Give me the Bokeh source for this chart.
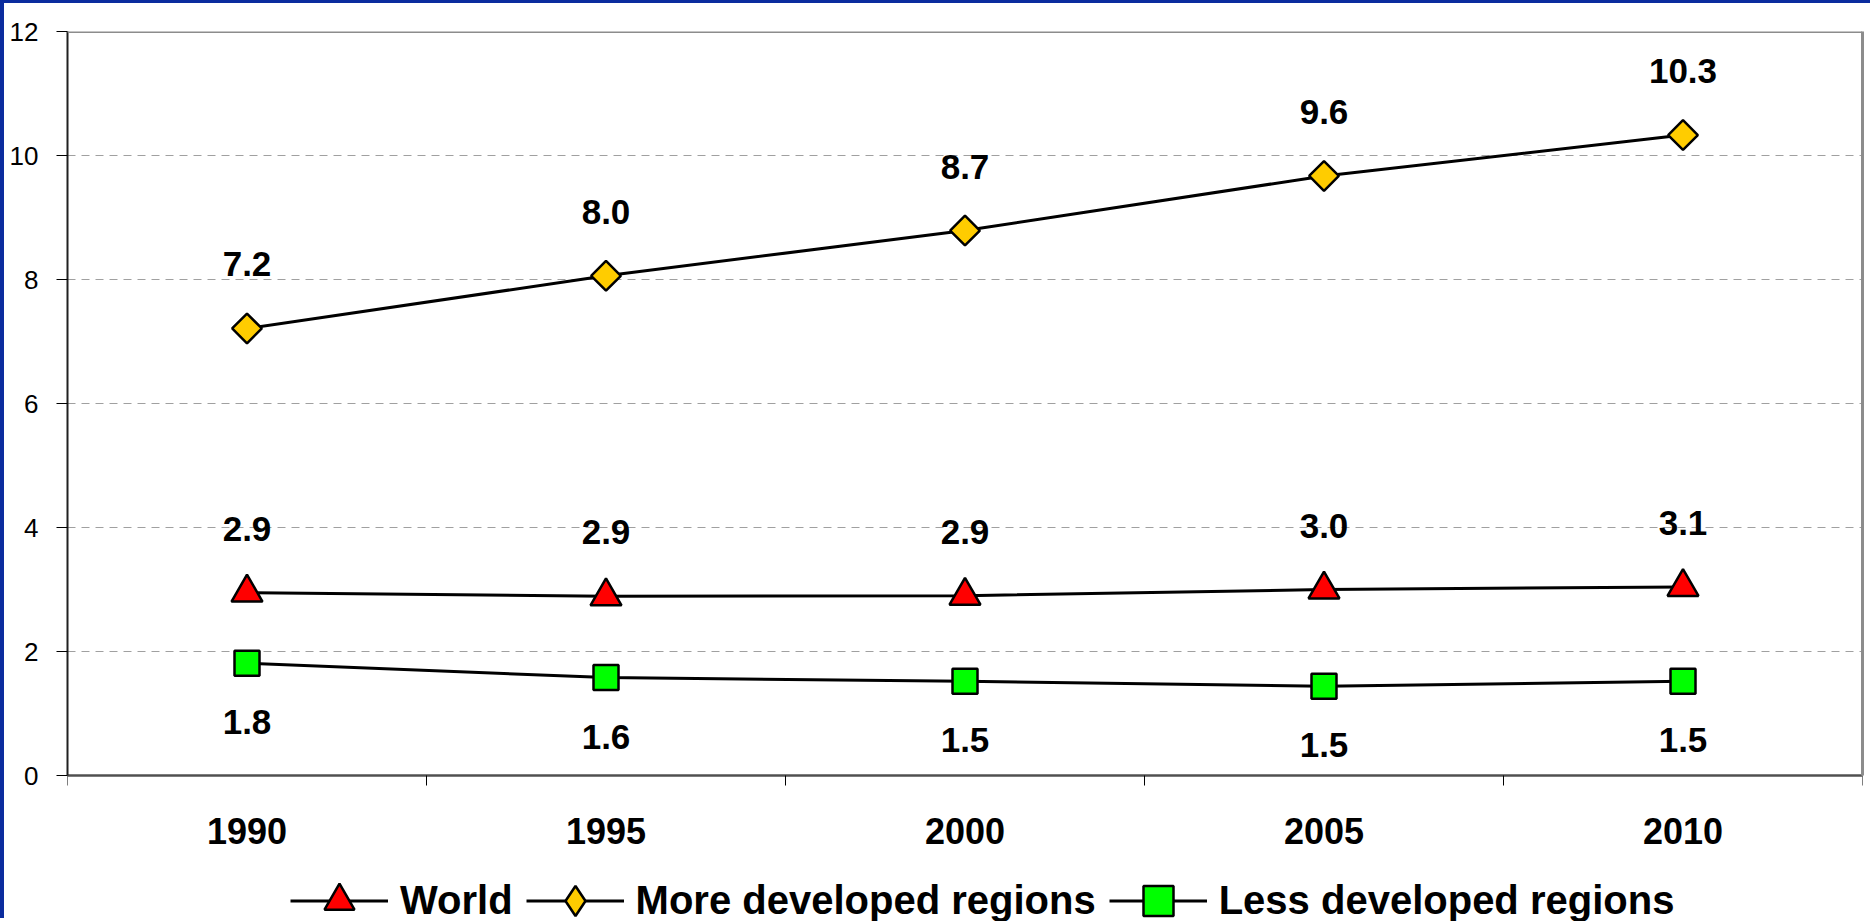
from bokeh.plotting import figure
from bokeh.models import FixedTicker, Legend, LegendItem, LinearAxis, Span, Range1d
from bokeh.embed import file_html
from bokeh.resources import INLINE
from bokeh.core.properties import value

years = ["1990", "1995", "2000", "2005", "2010"]
world = [2.95, 2.89, 2.90, 3.00, 3.04]
more_developed = [7.21, 8.06, 8.79, 9.67, 10.33]
less_developed = [1.81, 1.58, 1.52, 1.44, 1.52]
world_labels = ["2.9", "2.9", "2.9", "3.0", "3.1"]
more_labels = ["7.2", "8.0", "8.7", "9.6", "10.3"]
less_labels = ["1.8", "1.6", "1.5", "1.5", "1.5"]
y_ticks = [0, 2, 4, 6, 8, 10, 12]

FONT = "Liberation Sans"
BLUE = "#0b2c9e"

xs = [i + 0.5 for i in range(len(years))]

# canvas sits after a 4px blue left edge and 3px blue top edge
W, H = 1870, 918
TOP, LEFT, RIGHT = 28, 63, 12
ZERO = 772  # canvas row of y = 0
px_per_unit = (ZERO - TOP) / 12.0
y_min = -(H - ZERO) / px_per_unit

p = figure(width=W, height=H, x_range=Range1d(0, len(years)), y_range=Range1d(y_min, 12),
           output_backend="svg", toolbar_location=None, title=None,
           min_border_left=LEFT, min_border_right=RIGHT, min_border_top=TOP, min_border_bottom=0,
           x_axis_location=None)
p.styles = {"border-left": f"4px solid {BLUE}", "border-top": f"3px solid {BLUE}"}
p.background_fill_color = "white"
p.border_fill_color = "white"
p.outline_line_color = None

# grid
p.xgrid.visible = False
p.ygrid.ticker = FixedTicker(ticks=y_ticks)
p.ygrid.grid_line_color = "#a0a0a0"
p.ygrid.grid_line_dash = "8 6"
p.ygrid.grid_line_width = 1

# x axis fixed at y = 0
xa = LinearAxis(fixed_location=0)
xa.ticker = FixedTicker(ticks=xs, minor_ticks=list(range(len(years) + 1)))
xa.major_label_overrides = {x: y for x, y in zip(xs, years)}
xa.major_tick_out = 0
xa.major_tick_in = 0
xa.minor_tick_out = 10
xa.minor_tick_in = 0
xa.minor_tick_line_color = "black"
xa.minor_tick_line_width = 1
xa.axis_line_color = "#505050"
xa.axis_line_width = 2.5
xa.major_label_standoff = 32
xa.major_label_text_font = FONT
xa.major_label_text_font_size = "36px"
xa.major_label_text_font_style = "bold"
xa.major_label_text_color = "black"
p.add_layout(xa, "below")

# y axis
ya = p.yaxis[0]
ya.bounds = (0, 12)
ya.ticker = FixedTicker(ticks=y_ticks, minor_ticks=[])
ya.major_tick_out = 11
ya.major_tick_in = 0
ya.major_tick_line_color = "black"
ya.major_tick_line_width = 1
ya.minor_tick_out = 0
ya.minor_tick_in = 0
ya.axis_line_color = "#202020"
ya.axis_line_width = 2
ya.major_label_standoff = 18
ya.major_label_text_font = FONT
ya.major_label_text_font_size = "26px"
ya.major_label_text_color = "black"

# right frame border
ra = LinearAxis(bounds=(0, 12), ticker=FixedTicker(ticks=[], minor_ticks=[]))
ra.axis_line_color = "#8c8c8c"
ra.axis_line_width = 3
ra.major_tick_out = 0
ra.major_tick_in = 0
ra.minor_tick_out = 0
ra.minor_tick_in = 0
ra.major_label_standoff = 0
ra.major_label_text_font_size = "1px"
p.add_layout(ra, "right")

# top frame border
p.add_layout(Span(location=12, dimension="width", line_color="#8c8c8c", line_width=3))

series = [
    ("World", world, world_labels, "triangle", 31, "#ff0000", 0.0, -64),
    ("More developed regions", more_developed, more_labels, "square", 21, "#ffcc00", 0.785398, -64),
    ("Less developed regions", less_developed, less_labels, "square", 25, "#00ff00", 0.0, 59),
]
legend_markers = ["triangle", "diamond", "square"]

items = []
for (name, vals, labs, marker, size, color, ang, yoff), lm in zip(series, legend_markers):
    lr = p.line(xs, vals, line_color="black", line_width=3)
    sr = p.scatter(xs, vals, marker=marker, size=size, angle=ang,
                   fill_color=color, line_color="black", line_width=2.5)
    p.text(xs, vals, text=labs, text_align="center", text_baseline="alphabetic",
           y_offset=yoff, text_font=value(FONT), text_font_size="35px",
           text_font_style="bold", text_color="black")
    if lm != marker:
        # legend-only glyph (legend markers are drawn unrotated)
        sr = p.scatter(xs, vals, marker=lm, size=size, fill_color=color,
                       line_color="black", line_width=2.5, visible=False)
    items.append(LegendItem(label=name, renderers=[lr, sr]))

legend = Legend(items=items, orientation="horizontal", location=(223, -17))
legend.padding = 0
legend.margin = 0
legend.spacing = 13
legend.label_standoff = 12
legend.glyph_width = 98
legend.glyph_height = 75
legend.border_line_alpha = 0
legend.background_fill_alpha = 0
legend.label_text_font = FONT
legend.label_text_font_size = "40px"
legend.label_text_font_style = "bold"
legend.label_text_color = "black"
p.add_layout(legend)

open("out.html", "w").write(file_html(p, INLINE))
